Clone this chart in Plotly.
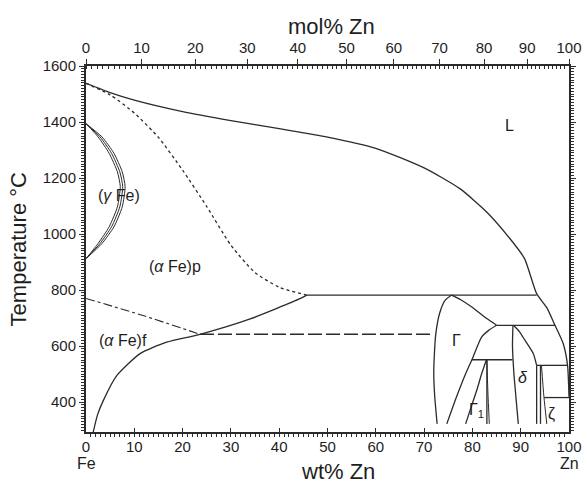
import plotly.graph_objects as go

# ---------------- data (wt% Zn, temperature °C) ----------------
liq_x = [0, 5, 10, 20, 30, 40, 50, 60, 70, 77.4, 83, 87.8, 90.8, 93.3, 95.4, 97.1, 98.8, 99.7, 100]
liq_T = [1538, 1505, 1478, 1437, 1405, 1376, 1346, 1306, 1236, 1162, 1078, 983, 912, 787, 737, 674, 609, 531, 419]

sol_x = [0, 5, 10, 15, 20, 25, 30, 35, 40, 45.7]
sol_T = [1538, 1497, 1432, 1345, 1228, 1098, 960, 862, 810, 782]

gam_T = [1394, 1347, 1288, 1222, 1169, 1097, 1026, 966, 912]
gam_in_x = [0, 2.5, 4.8, 6.5, 7.1, 6.5, 4.8, 2.5, 0]
gam_mid_x = [0, 2.9, 5.3, 7.0, 7.6, 7.0, 5.3, 2.9, 0]
gam_out_x = [0, 3.3, 5.8, 7.5, 8.1, 7.5, 5.8, 3.3, 0]

alf_x = [1.5, 2.4, 3.6, 6.4, 11.2, 16.7, 23.6, 34, 44.3, 45.7]
alf_T = [293, 355, 406, 495, 573, 614, 642, 697, 769, 782]

curie_x = [0, 12, 23.6]
curie_T = [770, 708, 642]

mag_x = [23.6, 72.0]
mag_T = [642, 642]

per782_x = [45.7, 93.3]
per782_T = [782, 782]

GL_x = [72.7, 72.2, 72.0, 72.1, 72.4, 73.2, 74.3, 75.7]
GL_T = [322, 420, 501, 560, 640, 716, 762, 782]

GRu_x = [75.7, 77.5, 79.8, 83.0, 85.0]
GRu_T = [782, 766, 740, 698, 674]

per674_x = [85.0, 97.1]
per674_T = [674, 674]

GRl_x = [85.0, 83.3, 81.9, 79.9, 78.6, 76.7, 74.7]
GRl_T = [674, 655, 632, 551, 501, 418, 322]

per551_x = [79.9, 88.3]
per551_T = [551, 551]

G1L_x = [82.9, 81.9, 80.9, 79.7, 78.6]
G1L_T = [551, 500, 442, 380, 322]
G1R_x = [83.0, 83.0]
G1R_T = [551, 322]
G1R2_x = [83.0, 83.2, 83.5]
G1R2_T = [551, 440, 322]

dL_x = [88.4, 88.3, 88.6, 89.0, 89.5]
dL_T = [674, 600, 500, 420, 322]

dR_x = [88.5, 89.8, 90.9, 92.6, 93.3]
dR_T = [674, 650, 620, 573, 531]

v1_x = [93.3, 93.3]
v1_T = [531, 322]
v2_x = [94.1, 94.1]
v2_T = [531, 322]

per531_x = [93.3, 99.7]
per531_T = [531, 531]

zeta_x = [94.3, 94.8, 95.4]
zeta_T = [531, 420, 322]

eut_x = [94.85, 100]
eut_T = [416, 416]

# top axis: mol% Zn labels
mol_ticks = [0, 10, 20, 30, 40, 50, 60, 70, 80, 90, 100]
mol_minor = list(range(0, 101))
M_ZN, M_FE = 65.38, 55.845


def mol_to_wt(m):
    return 100 * m * M_ZN / (m * M_ZN + (100 - m) * M_FE)


LC = "#2b2b2b"
fig = go.Figure()


def add(x, y, dash="solid", width=1.3, shape="spline"):
    fig.add_trace(go.Scatter(x=x, y=y, mode="lines",
                             line=dict(color=LC, width=width, dash=dash, shape=shape, smoothing=0.6),
                             showlegend=False, hoverinfo="skip"))


add(liq_x, liq_T)
add(sol_x, sol_T, dash="dot")
add(gam_in_x, gam_T, width=1.0)
add(gam_mid_x, gam_T, width=1.0)
add(gam_out_x, gam_T, width=1.0)
add(alf_x, alf_T)
add(curie_x, curie_T, dash="dashdot", width=1.1)
add(mag_x, mag_T, dash="14px,4px", width=1.3, shape="linear")
add(per782_x, per782_T, shape="linear")
add(GL_x, GL_T)
add(GRu_x, GRu_T)
add(per674_x, per674_T, shape="linear")
add(GRl_x, GRl_T)
add(per551_x, per551_T, shape="linear")
add(G1L_x, G1L_T)
add(G1R_x, G1R_T, shape="linear")
add(G1R2_x, G1R2_T, width=1.0)
add(dL_x, dL_T)
add(dR_x, dR_T)
add(v1_x, v1_T, shape="linear")
add(v2_x, v2_T, shape="linear")
add(per531_x, per531_T, shape="linear")
add(zeta_x, zeta_T, width=1.0)
add(eut_x, eut_T, shape="linear")

# invisible trace for the top axis
fig.add_trace(go.Scatter(x=[0, 100], y=[1000, 1000], xaxis="x2", mode="lines",
                         line=dict(width=0), showlegend=False, hoverinfo="skip"))

TF = "Liberation Sans, Arial"
TXT = "#1e1e1e"

fig.update_layout(
    template="none",
    width=585, height=484,
    margin=dict(l=86, r=16, t=66, b=52, autoexpand=False),
    paper_bgcolor="white", plot_bgcolor="white",
    xaxis=dict(range=[0, 100], tickmode="linear", tick0=0, dtick=10, showgrid=False, zeroline=False,
               automargin=False,
               showline=True, linecolor=LC, linewidth=2, ticks="inside", ticklen=4, tickcolor=LC, tickwidth=1,
               tickfont=dict(family=TF, size=15, color=TXT),
               minor=dict(dtick=1, ticks="outside", ticklen=3, tickcolor=LC, tickwidth=1, showgrid=False)),
    xaxis2=dict(range=[0, 100], overlaying="x", side="top", showgrid=False, zeroline=False, automargin=False,
                tickmode="array", tickvals=[mol_to_wt(m) for m in mol_ticks], ticktext=[str(m) for m in mol_ticks],
                showline=True, linecolor=LC, linewidth=1.8, ticks="outside", ticklen=5, tickcolor=LC, tickwidth=1,
                tickfont=dict(family=TF, size=15, color=TXT),
                minor=dict(tickmode="array", tickvals=[mol_to_wt(m) for m in mol_minor], ticks="inside",
                           ticklen=3, tickcolor=LC, tickwidth=1, showgrid=False)),
    yaxis=dict(range=[293, 1600], tickmode="linear", tick0=0, dtick=200, showgrid=False, zeroline=False,
               automargin=False,
               showline=True, linecolor=LC, linewidth=2, mirror="ticks", ticks="outside", ticklen=5,
               tickcolor=LC, tickwidth=1, tickfont=dict(family=TF, size=15, color=TXT),
               minor=dict(dtick=10, tick0=0, ticks="outside", ticklen=3, tickcolor=LC, tickwidth=1,
                          showgrid=False)),
)

ann = dict(showarrow=False, font=dict(family=TF, size=16, color=TXT))
labels = [
    (87.6, 1386, "L"),
    (6.8, 1139, "(<i>γ</i> Fe)"),
    (18.5, 883, "(<i>α</i> Fe)p"),
    (7.6, 620, "(<i>α</i> Fe)f"),
    (76.7, 620, "Γ"),
    (90.5, 489, "<i>δ</i>"),
    (80.9, 370, "Γ<sub>1</sub>"),
    (96.4, 358, "ζ"),
]
for x, y, t in labels:
    fig.add_annotation(x=x, y=y, xref="x", yref="y", text=t, **ann)

# element labels under the axis ends
fig.add_annotation(x=0, y=-0.086, xref="x", yref="paper", text="Fe", showarrow=False,
                   yanchor="middle", font=dict(family=TF, size=16, color=TXT))
fig.add_annotation(x=100, y=-0.086, xref="x", yref="paper", text="Zn", showarrow=False,
                   yanchor="middle", font=dict(family=TF, size=16, color=TXT))

# axis titles
fig.add_annotation(x=0.508, y=1.107, xref="paper", yref="paper", text="mol% Zn", showarrow=False,
                   yanchor="middle", font=dict(family=TF, size=22, color=TXT))
fig.add_annotation(x=0.522, y=-0.108, xref="paper", yref="paper", text="wt% Zn", showarrow=False,
                   yanchor="middle", font=dict(family=TF, size=22, color=TXT))
fig.add_annotation(x=-0.14, y=0.5, xref="paper", yref="paper", text="Temperature °C", showarrow=False,
                   textangle=-90, xanchor="center", yanchor="middle",
                   font=dict(family=TF, size=22, color=TXT))

fig.write_html("out.html")
